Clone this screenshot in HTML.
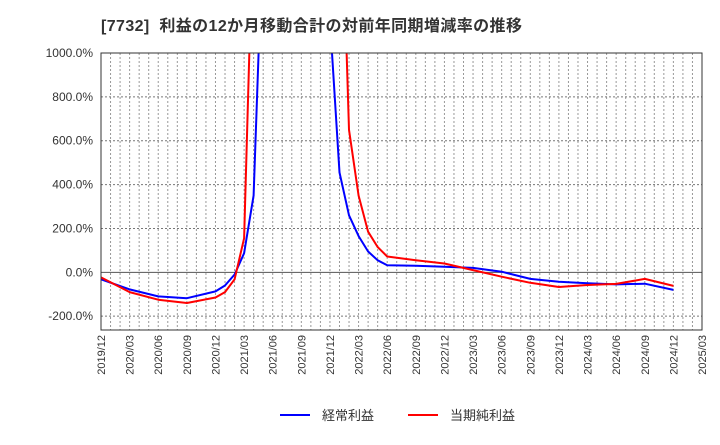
<!DOCTYPE html>
<html><head><meta charset="utf-8"><style>
body{margin:0;background:#fff;font-family:"Liberation Sans","Noto Sans CJK JP",sans-serif;}
</style></head><body>
<svg width="720" height="440" xmlns="http://www.w3.org/2000/svg" style="font-family:'Liberation Sans','Noto Sans CJK JP',sans-serif">
<text x="101" y="31" font-size="16" font-weight="bold" fill="#333" letter-spacing="0.4">[7732]&#160;&#160;利益の12か月移動合計の対前年同期増減率の推移</text>
<g id="grid"></g><g id="axes"></g>
<defs><clipPath id="pc"><rect x="101" y="53" width="601" height="277"/></clipPath></defs>
<g id="series" clip-path="url(#pc)"></g>
<rect x="101" y="53" width="601" height="277" fill="none" stroke="#333" stroke-width="1"/>
<g>
<line x1="280" y1="415" x2="310" y2="415" stroke="#0000ff" stroke-width="2"/>
<text x="322" y="420" font-size="13" fill="#333">経常利益</text>
<line x1="408" y1="415" x2="438" y2="415" stroke="#ff0000" stroke-width="2"/>
<text x="450" y="420" font-size="13" fill="#333">当期純利益</text>
</g>
</svg>
<script>
const xLabels=["2019/12","2020/03","2020/06","2020/09","2020/12","2021/03","2021/06","2021/09","2021/12","2022/03","2022/06","2022/09","2022/12","2023/03","2023/06","2023/09","2023/12","2024/03","2024/06","2024/09","2024/12","2025/03"];
const yTicks=[-200,0,200,400,600,800,1000];
const blueMonths=[0,3,6,9,12,13,14,15,16,17,24,25,26,27,28,29,30,33,36,39,42,45,48,51,54,57,60];
const blueValues=[-32,-78,-110,-118,-87,-60,-10,87,350,1600,1145,455,260,165,95,55,32,30,25,20,3,-30,-43,-50,-55,-52,-80];
const redMonths=[0,3,6,9,12,13,14,15,16,25,26,27,28,29,30,33,36,39,42,45,48,51,54,57,60];
const redValues=[-23,-90,-125,-140,-115,-90,-32,155,1690,2050,650,350,185,115,72,55,40,10,-20,-48,-67,-58,-53,-30,-62];
const NS="http://www.w3.org/2000/svg";
const X0=101,X1=702,Y0=330,Y1=53,MMAX=63,VMIN=-263,VMAX=1000;
const xs=m=>X0+(X1-X0)*m/MMAX;
const ys=v=>Y0-(Y0-Y1)*(v-VMIN)/(VMAX-VMIN);
const grid=document.getElementById('grid'),axes=document.getElementById('axes'),series=document.getElementById('series');
function mk(t,a,p){const e=document.createElementNS(NS,t);for(const k in a)e.setAttribute(k,a[k]);p.appendChild(e);return e;}
for(let m=1;m<MMAX;m++){const l=mk('line',{x1:xs(m),x2:xs(m),y1:Y1,y2:Y0,stroke:'#999','stroke-width':1,'stroke-dasharray':'2,2'},grid);

}
yTicks.forEach(v=>{const y=ys(v);
const l=mk('line',{x1:X0,x2:X1,y1:y,y2:y,stroke:v===0?'#555':'#777','stroke-width':1,'stroke-dasharray':v===0?'':'2,2'},grid);


const t=mk('text',{x:93,y:y+4,'text-anchor':'end','font-size':12,fill:'#333'},axes);t.textContent=v.toFixed(1)+'%';

});
xLabels.forEach((s,i)=>{const x=xs(i*3);
const t=mk('text',{x:0,y:0,transform:`translate(${x+4},${Y0+5}) rotate(-90)`,'text-anchor':'end','font-size':11,fill:'#333'},axes);t.textContent=s;

});
function draw(ms,vs,c,name){let d='',pen=false;
for(let i=0;i<ms.length;i++){if(i>0&&ms[i]-ms[i-1]>3){pen=false;}d+=(pen?'L':'M')+xs(ms[i]).toFixed(1)+','+ys(vs[i]).toFixed(1);pen=true;}
const p=mk('path',{d:d,fill:'none',stroke:c,'stroke-width':2,'stroke-linejoin':'round'},series);

}
draw(blueMonths,blueValues,'#0000ff','series-ordinary-profit');
draw(redMonths,redValues,'#ff0000','series-net-profit');
</script>
</body></html>
